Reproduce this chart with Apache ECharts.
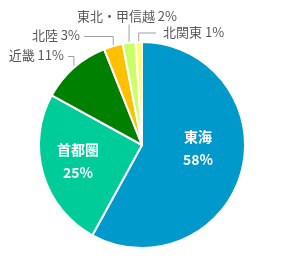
<!DOCTYPE html>
<html><head><meta charset="utf-8">
<script src="https://cdn.jsdelivr.net/npm/echarts@6/dist/echarts.min.js"></script>
<style>html,body{margin:0;padding:0;background:#fff}#c{width:287px;height:278px}</style>
</head><body><div id="c"></div>
<script>
const categories = ['東海', '首都圏', '近畿', '北陸', '東北・甲信越', '北関東'];
const values = [58, 25, 11, 3, 2, 1];
const colors = ['#0099CC', '#00CC99', '#008000', '#FFC000', '#CCFF66', '#FFFF66'];
const insideLabel = [true, true, false, false, false, false];
// label anchor placement (layout only)
const labelPlacement = [
  { x: 198, y: 148, align: 'center' },
  { x: 78, y: 161, align: 'center' },
  { x: 64, y: 55, align: 'right' },
  { x: 80, y: 35, align: 'right' },
  { x: 127, y: 16, align: 'center' },
  { x: 163, y: 32, align: 'left' }
];
const FONT = '"Noto Sans CJK JP", "Noto Sans", sans-serif';

const data = categories.map((name, i) => {
  const inside = insideLabel[i];
  return {
    name: name,
    value: values[i],
    itemStyle: { color: colors[i] },
    label: inside ? {
      position: 'inside', color: '#ffffff', fontSize: 14, fontWeight: 'bold',
      lineHeight: 23, fontFamily: FONT,
      formatter: p => p.name + '\n' + p.value + '%'
    } : {
      position: 'outside', color: '#595959', fontSize: 13, fontFamily: FONT,
      formatter: p => p.name + ' ' + p.value + '%'
    },
    labelLine: { show: !inside, lineStyle: { color: '#A0A0A0', width: 1 } }
  };
});

const chart = echarts.init(document.getElementById('c'), null, { renderer: 'canvas' });
chart.setOption({
  animation: false,
  backgroundColor: '#ffffff',
  series: [{
    type: 'pie',
    center: [142, 145],
    radius: 103,
    startAngle: 90,
    clockwise: true,
    avoidLabelOverlap: false,
    itemStyle: { borderColor: '#ffffff', borderWidth: 2 },
    emphasis: { disabled: true },
    data: data,
    labelLayout: function (p) {
      const pl = labelPlacement[p.dataIndex];
      const res = { x: pl.x, y: pl.y, align: pl.align, verticalAlign: 'middle' };
      if (!insideLabel[p.dataIndex] && p.labelLinePoints) {
        const a = p.labelLinePoints[0];
        const h = p.labelRect.height;
        let pts;
        if (pl.align === 'center') {
          const ty = pl.y + h / 2 + 2;
          pts = [a, [a[0], ty], [a[0], ty]];
        } else if (pl.align === 'right') {
          const ly = pl.y + 1.5;
          pts = [a, [a[0], ly], [pl.x + 4, ly]];
        } else {
          const ly = pl.y + 1;
          pts = [a, [a[0], ly], [pl.x - 7, ly]];
        }
        res.labelLinePoints = pts;
      }
      return res;
    }
  }]
});
</script>
</body></html>
